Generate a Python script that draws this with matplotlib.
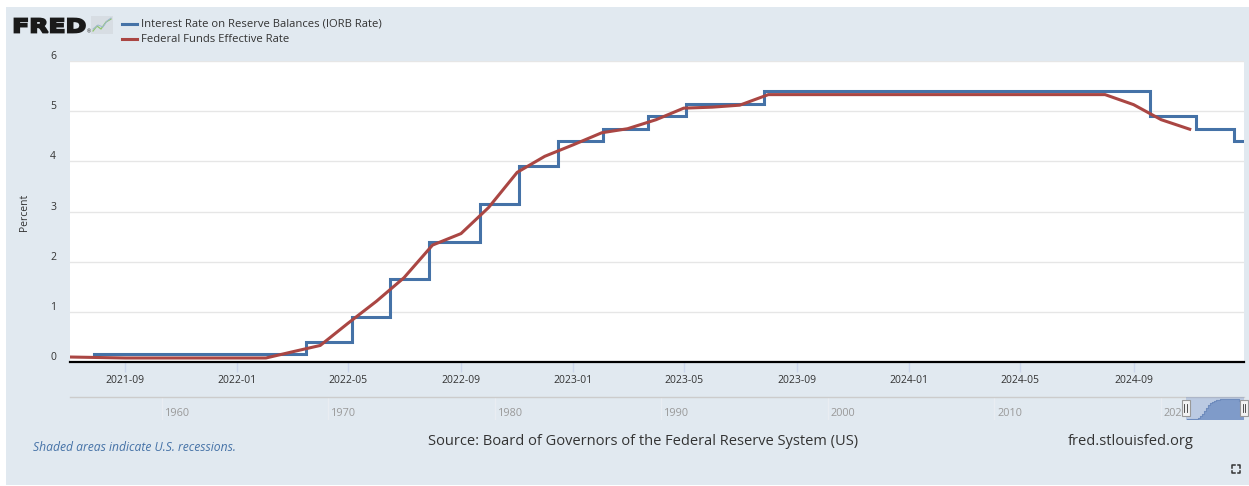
import matplotlib
matplotlib.use("Agg")
import matplotlib.pyplot as plt
import matplotlib.dates as mdates
from matplotlib.transforms import ScaledTranslation, blended_transform_factory, Affine2D
from matplotlib.patches import Rectangle, PathPatch
from matplotlib.lines import Line2D
from matplotlib.textpath import TextPath
from matplotlib.font_manager import FontProperties
import pandas as pd

# ---------------- data ----------------
fedfunds_months = pd.date_range("2021-07-01", "2024-11-01", freq="MS")
fedfunds_values = [0.10, 0.09, 0.08, 0.08, 0.08, 0.08,
                   0.08, 0.08, 0.20, 0.33, 0.77, 1.21, 1.68, 2.33, 2.56, 3.08, 3.78, 4.10,
                   4.33, 4.57, 4.65, 4.83, 5.06, 5.08, 5.12, 5.33, 5.33, 5.33, 5.33, 5.33,
                   5.33, 5.33, 5.33, 5.33, 5.33, 5.33, 5.33, 5.33, 5.13, 4.83, 4.64]

iorb_dates = ["2021-07-29", "2022-03-17", "2022-05-05", "2022-06-16", "2022-07-28",
              "2022-09-22", "2022-11-03", "2022-12-15", "2023-02-02", "2023-03-23",
              "2023-05-04", "2023-07-27", "2024-09-19", "2024-11-08", "2024-12-19",
              "2024-12-30"]
iorb_values = [0.15, 0.40, 0.90, 1.65, 2.40, 3.15, 3.90, 4.40, 4.65, 4.90,
               5.15, 5.40, 4.90, 4.65, 4.40, 4.40]

series_names = ["Interest Rate on Reserve Balances (IORB Rate)", "Federal Funds Effective Rate"]
series_colors = ["#4572a7", "#aa4643"]

x_range = ["2021-07-03", "2024-12-30"]
xtick_dates = pd.date_range("2021-09-01", "2024-09-01", freq="4MS")
ytick_values = [0, 1, 2, 3, 4, 5, 6]

nav_range = ["1954-07-01", "2024-12-30"]
nav_decades = [1960, 1970, 1980, 1990, 2000, 2010, 2020]

source_text = "Source: Board of Governors of the Federal Reserve System (US)"
site_text = "fred.stlouisfed.org"
recession_text = "Shaded areas indicate U.S. recessions."

# ---------------- figure ----------------
W, H = 1249, 486
BG = "#e1e9f0"
FONT = "Open Sans"
plt.rcParams["font.family"] = [FONT, "DejaVu Sans"]

fig = plt.figure(figsize=(W / 100, H / 100), dpi=100, facecolor="white")


def fx(x):
    return x / W


def fy(y):
    return 1 - y / H


# light panel
fig.patches.append(Rectangle((fx(6), fy(485)), fx(1249) - fx(6), fy(7) - fy(485),
                             transform=fig.transFigure, facecolor=BG, edgecolor="none", zorder=-10))

# main axes
L, R, T, B = 70, 1244, 61, 362
ax = fig.add_axes([fx(L), fy(B), fx(R) - fx(L), fy(T) - fy(B)])
ax.set_facecolor("white")

iorb_dt = pd.to_datetime(iorb_dates)
ax.step(iorb_dt, iorb_values, where="post", color=series_colors[0], lw=2.2, zorder=3,
        solid_joinstyle="miter")
ax.plot(fedfunds_months, fedfunds_values, color=series_colors[1], lw=2.2, zorder=4)

ax.set_xlim(pd.Timestamp(x_range[0]), pd.Timestamp(x_range[1]))
ax.set_ylim(0, 6)
ax.set_yticks(ytick_values)
ax.set_yticklabels([str(v) for v in ytick_values])
ax.set_xticks(xtick_dates)
ax.xaxis.set_major_formatter(mdates.DateFormatter("%Y-%m"))
ax.grid(axis="y", color="#e6e6e6", lw=1)
ax.set_axisbelow(True)
for s in ["top", "right", "left"]:
    ax.spines[s].set_visible(False)
ax.spines["bottom"].set_color("black")
ax.spines["bottom"].set_linewidth(1.6)
ax.spines["bottom"].set_zorder(5)
ax.tick_params(axis="y", length=0, pad=10, labelsize=7.5, labelcolor="#333333")
ax.tick_params(axis="x", length=7.2, width=1, color="#ccd6eb", pad=2.5,
               labelsize=7.5, labelcolor="#333333")
for t in ax.yaxis.get_major_ticks():
    t.label1.set_transform(t.label1.get_transform() +
                           ScaledTranslation(0, 4.5 / 100, fig.dpi_scale_trans))
    t.label1.set_verticalalignment("center")

fig.text(fx(25), fy(212), "Percent", rotation=90, ha="center", va="center",
         fontsize=7.5, color="#333333")

# ---------------- navigator ----------------
NT, NB = 397, 420
nav = fig.add_axes([fx(L), fy(NB), fx(R) - fx(L), fy(NT) - fy(NB)])
nav.set_facecolor("none")
nav.set_xlim(pd.Timestamp(nav_range[0]), pd.Timestamp(nav_range[1]))
nav.set_ylim(0, 5.9)
for s in ["bottom", "right", "left"]:
    nav.spines[s].set_visible(False)
nav.spines["top"].set_color("#cccccc")
nav.spines["top"].set_linewidth(1)
nav.set_xticks([])
nav.set_yticks([])
for yr in nav_decades:
    d = pd.Timestamp(f"{yr}-01-01")
    nav.axvline(d, color="#e9edf2", lw=1, zorder=1)
    nav.text(d, 0.3, str(yr), transform=blended_transform_factory(nav.transData, nav.transAxes) +
             ScaledTranslation(3 / 100, 0, fig.dpi_scale_trans),
             ha="left", va="center", fontsize=7.8, color="#999999", zorder=2)
nav.axvspan(pd.Timestamp(x_range[0]), pd.Timestamp(x_range[1]), color="#6685c2",
            alpha=0.3, lw=0, zorder=3)
nav.fill_between(iorb_dt, iorb_values, step="post", color="#7f9bc9", lw=0, zorder=4)
nav.step(iorb_dt, iorb_values, where="post", color="#6f8cbd", lw=0.8, zorder=5)


def handle(xc):
    w, h = 8, 16
    y0 = 400
    fig.patches.append(Rectangle((fx(xc - w / 2), fy(y0 + h)), w / W, h / H,
                                 transform=fig.transFigure, facecolor="#f2f2f2",
                                 edgecolor="#999999", lw=0.8, zorder=10))
    for dx in (-1.2, 1.2):
        fig.lines.append(Line2D([fx(xc + dx), fx(xc + dx)], [fy(y0 + 4), fy(y0 + h - 4)],
                                transform=fig.transFigure, color="#333333", lw=0.6, zorder=11))


handle(1185.5)
handle(1244)

# ---------------- header / legend ----------------
# FRED wordmark, stretched to the logo box
tp = TextPath((0, 0), "FRED", size=1, prop=FontProperties(family="DejaVu Sans", weight="bold"))
bb = tp.get_extents()
lx0, lx1, ly_top, ly_bot = 14.5, 85, 18.5, 32.5
sx = (lx1 - lx0) / bb.width
sy = (ly_bot - ly_top) / bb.height
logo_tr = Affine2D().translate(-bb.x0, -bb.y0).scale(sx, sy).translate(lx0, H - ly_bot)
fig.patches.append(PathPatch(tp, transform=logo_tr, facecolor="#1a1a1a", edgecolor="#1a1a1a",
                             lw=1.3, joinstyle="miter", zorder=5))
fig.text(fx(86.5), fy(32), "®", fontsize=3.5, color="#222222", ha="left", va="center")
# small logo icon
fig.patches.append(Rectangle((fx(91), fy(34)), 22 / W, 18 / H, transform=fig.transFigure,
                             facecolor="#d7dde3", edgecolor="none", zorder=2))
icon_green = [(93, 31), (97, 26), (101, 29), (106, 22), (111, 19)]
icon_blue = [(93, 29), (98, 25), (103, 27), (107, 21), (111, 18)]
fig.lines.append(Line2D([fx(p[0]) for p in icon_green], [fy(p[1]) for p in icon_green],
                        transform=fig.transFigure, color="#8ec66b", lw=0.9, zorder=3))
fig.lines.append(Line2D([fx(p[0]) for p in icon_blue], [fy(p[1]) for p in icon_blue],
                        transform=fig.transFigure, color="#9fb8d0", lw=0.7, zorder=3))

for i, (name, col) in enumerate(zip(series_names, series_colors)):
    yy = 24 + 15 * i
    fig.lines.append(Line2D([fx(122), fx(137)], [fy(yy), fy(yy)], transform=fig.transFigure,
                            color=col, lw=2.2))
    fig.text(fx(141), fy(yy), name, fontsize=8.1, color="#333333", ha="left", va="center")

# ---------------- footer ----------------
fig.text(fx(33), fy(447), recession_text, fontsize=8.7, style="italic", color="#4572a7",
         ha="left", va="center")
fig.text(fx(643), fy(441), source_text, fontsize=10.5, color="#333333", ha="center", va="center")
fig.text(fx(1131), fy(441), site_text, fontsize=10.5, color="#333333", ha="center", va="center")

# fullscreen icon
cx, cy, s, a = 1236, 469, 4, 2.5
for sxx in (-1, 1):
    for syy in (-1, 1):
        xs = [fx(cx + sxx * s), fx(cx + sxx * s), fx(cx + sxx * (s - a))]
        ys = [fy(cy + syy * (s - a)), fy(cy + syy * s), fy(cy + syy * s)]
        fig.lines.append(Line2D(xs, ys, transform=fig.transFigure, color="#333333", lw=1.1))

fig.savefig("out.png", dpi=100, facecolor="white")
